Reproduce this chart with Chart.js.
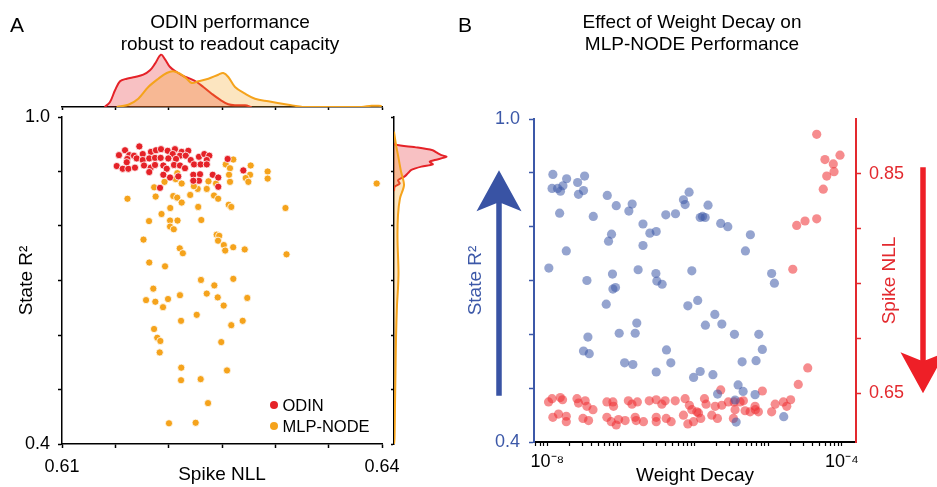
<!DOCTYPE html>
<html>
<head>
<meta charset="utf-8">
<script src="https://cdn.jsdelivr.net/npm/chart.js"></script>
<style>
  body { margin: 0; background: #fff; font-family: "Liberation Sans", Arial, sans-serif; color: #000; }
  #figure { position: relative; width: 937px; height: 487px; overflow: hidden; }
  #figure canvas { position: absolute; left: 0; top: 0; }
  .panel-letter { position: absolute; font-size: 21px; line-height: 21px; }
  .panel-title { position: absolute; width: 300px; font-size: 19px; line-height: 22px; text-align: center; }
  #legendA { position: absolute; left: 270px; top: 394.5px; }
  .legend-row { display: flex; align-items: center; height: 21px; font-size: 16.5px; }
  .legend-row .dot { width: 8px; height: 8px; border-radius: 50%; margin-right: 4.5px; }
</style>
</head>
<body>
<div id="figure">
  <canvas id="topKde" width="937" height="487"></canvas>
  <canvas id="rightKde" width="937" height="487"></canvas>
  <canvas id="mainA" width="937" height="487"></canvas>
  <canvas id="panelB" width="937" height="487"></canvas>

  <div class="panel-letter" style="left:10px; top:14px;">A</div>
  <div class="panel-letter" style="left:458px; top:14px;">B</div>
  <div class="panel-title" style="left:80px; top:10.7px;">ODIN performance<br>robust to readout capacity</div>
  <div class="panel-title" style="left:542px; top:10.7px;">Effect of Weight Decay on<br>MLP-NODE Performance</div>
  <div id="legendA"></div>
</div>

<script>
// ---- Panel A: Spike NLL vs State R2 ----
const odinNll = [0.61591,0.61725,0.61534,0.61631,0.61675,0.61757,0.61834,0.61881,0.61928,0.61991,
  0.62059,0.62122,0.62184,0.62038,0.62106,0.6216,0.62284,0.62334,0.62381,0.61612,
  0.617,0.61757,0.61818,0.61872,0.61925,0.61997,0.62069,0.62207,0.62357,0.61513,
  0.61569,0.61622,0.61684,0.61607,0.61769,0.61832,0.61872,0.6195,0.61982,0.6205,
  0.62106,0.62153,0.62238,0.623,0.62357,0.61818,0.6195,0.62013,0.6209,0.62231,
  0.62294,0.62284,0.62231,0.62413,0.62465,0.62465,0.61919,0.62553,0.627];
const odinR2 = [0.939,0.946,0.930,0.930,0.929,0.932,0.936,0.939,0.941,0.938,
  0.941,0.936,0.938,0.932,0.929,0.929,0.927,0.932,0.929,0.923,
  0.924,0.921,0.924,0.925,0.925,0.924,0.923,0.921,0.921,0.910,
  0.905,0.905,0.907,0.917,0.911,0.907,0.912,0.911,0.905,0.912,
  0.911,0.906,0.913,0.913,0.913,0.899,0.894,0.889,0.891,0.894,
  0.895,0.883,0.883,0.894,0.889,0.872,0.870,0.923,0.902];

const nodeNll = [0.62606,0.62535,0.62575,0.62769,0.62928,0.62928,0.62763,0.62722,0.62747,0.62566,
  0.62575,0.6395,0.62373,0.62444,0.62357,0.62272,0.62236,0.62122,0.62066,0.61961,
  0.61864,0.61878,0.61614,0.62043,0.6208,0.62122,0.62202,0.62425,0.62464,0.62563,
  0.62587,0.62277,0.62015,0.61933,0.63095,0.61816,0.62013,0.62083,0.62306,0.62013,
  0.62048,0.61764,0.6245,0.62474,0.62463,0.62517,0.62605,0.62713,0.6253,0.62104,
  0.62133,0.63105,0.61818,0.61966,0.62303,0.62606,0.62428,0.61856,0.62357,0.62106,
  0.6246,0.62737,0.61788,0.61994,0.61875,0.61947,0.62516,0.62263,0.62116,0.62587,
  0.62694,0.61863,0.61893,0.61922,0.62493,0.61916,0.62118,0.62547,0.623,0.62116,
  0.62369,0.62003,0.62253,0.62081];
const nodeR2 = [0.922,0.913,0.906,0.911,0.900,0.887,0.894,0.888,0.881,0.894,
  0.881,0.878,0.882,0.878,0.868,0.868,0.873,0.878,0.886,0.881,
  0.871,0.854,0.850,0.855,0.852,0.843,0.857,0.856,0.850,0.839,
  0.835,0.835,0.833,0.822,0.833,0.809,0.810,0.810,0.811,0.799,
  0.794,0.775,0.784,0.782,0.773,0.765,0.761,0.757,0.755,0.759,
  0.750,0.748,0.733,0.726,0.701,0.703,0.691,0.685,0.676,0.673,
  0.669,0.668,0.664,0.666,0.661,0.651,0.654,0.637,0.626,0.618,
  0.626,0.611,0.595,0.589,0.587,0.568,0.540,0.535,0.519,0.517,
  0.475,0.438,0.439,0.897];

// marginal densities (arbitrary units)
const odinKdeNll = [0.6140,0.6145,0.61497,0.61544,0.61607,0.61684,0.61762,0.61825,0.61872,0.61928,
  0.61966,0.62013,0.62075,0.62137,0.622,0.62263,0.62325,0.62403,0.62481,0.62559,0.62638,0.62716,0.62778];
const odinKdeTop = [0,5,16.7,25.7,28.3,30,32.3,36.7,43.3,52.3,47.7,40,35,31,28.3,25,20,13.3,7.3,2.7,1.7,1.7,0];
const nodeKdeNll = [0.61513,0.61622,0.61715,0.61809,0.61903,0.61982,0.62043,0.62106,0.62169,0.62216,
  0.62278,0.62372,0.62465,0.62512,0.62559,0.62622,0.62716,0.62809,0.62934,0.63122,
  0.63247,0.63434,0.63809,0.63903,0.63997];
const nodeKdeTop = [0,2.3,8.3,20,28.3,34,35.7,33.3,28.3,24,25.7,28.3,32.3,34,30,20,13.3,8.3,5.7,2.3,0.3,0,0,1.3,1];

const odinKdeR2 = [0.952,0.949,0.944,0.939,0.935,0.930,0.927,0.921,0.918,0.913,0.909,0.903,0.897,0.891,0.884,0.878,0.872,0.864];
const odinKdeSide = [0,1.3,23.7,38.7,42.4,47.4,52.4,40.7,35.7,38.7,27.4,17.4,14,10.7,4,5.7,0.7,0];
const nodeKdeR2 = [0.973,0.949,0.930,0.900,0.875,0.851,0.820,0.777,0.716,0.686,0.655,0.594,0.533,0.472,0.410,0.400];
const nodeKdeSide = [0,2,4,7,10,6,4,3.5,4.5,4,3,2,1.5,1,0.5,0];

// ---- Panel B: weight decay sweep ----
const wdR2 = [1.19e-8,1.16e-8,1.38e-8,1.51e-8,1.63e-8,1.83e-8,2.58e-8,3.21e-8,2.65e-8,3.10e-8,
  1.47e-8,4.21e-8,6.52e-8,8.63e-8,1.42e-7,1.28e-7,7.45e-8,6.78e-8,1.99e-7,2.47e-7,
  3.01e-7,1.99e-7,4.06e-7,5.50e-7,7.05e-7,7.43e-7,8.41e-7,1.19e-6,1.28e-6,1.39e-6,
  1.52e-6,2.26e-6,2.82e-6,5.71e-6,4.89e-6,1.81e-8,1.05e-8,3.45e-8,7.67e-8,1.71e-7,
  2.98e-7,3.07e-7,3.62e-7,9.16e-7,1.11e-5,1.21e-5,7.78e-8,8.43e-8,1.10e-6,6.31e-8,
  8.09e-7,1.88e-6,1.40e-6,2.34e-6,1.64e-7,3.56e-8,9.46e-8,1.56e-7,3.10e-8,3.71e-8,
  4.15e-7,4.75e-7,1.12e-7,1.45e-7,3.01e-7,3.47e-6,7.43e-6,8.30e-6,6.82e-6,4.41e-6,
  1.77e-6,1.19e-6,9.68e-7,3.89e-6,4.55e-6,2.05e-6,6.61e-6,1.62e-5,3.66e-6,3.54e-6];
const stateR2 = [0.897,0.871,0.871,0.866,0.876,0.889,0.882,0.894,0.860,0.867,
  0.825,0.819,0.858,0.839,0.842,0.829,0.786,0.773,0.805,0.788,
  0.791,0.765,0.822,0.824,0.850,0.841,0.864,0.817,0.819,0.817,
  0.840,0.806,0.800,0.785,0.755,0.755,0.723,0.700,0.712,0.720,
  0.713,0.699,0.693,0.718,0.713,0.695,0.684,0.687,0.663,0.656,
  0.653,0.637,0.617,0.619,0.621,0.595,0.602,0.602,0.569,0.564,
  0.571,0.547,0.547,0.544,0.530,0.600,0.600,0.572,0.551,0.549,
  0.525,0.531,0.520,0.506,0.494,0.489,0.488,0.447,0.437,0.478];

const wdNll = [4.54e-5,5.87e-5,7.62e-5,9.40e-5,6.21e-5,7.80e-5,5.57e-5,4.54e-5,3.15e-5,2.43e-5,
  2.15e-5,3.43e-5,2.55e-5,
  1.04e-8,1.16e-8,1.50e-8,1.61e-8,2.53e-8,2.65e-8,3.27e-8,3.45e-8,4.17e-8,6.44e-8,
  7.78e-8,7.93e-8,1.26e-7,1.41e-7,1.67e-7,2.42e-7,3.01e-7,3.59e-7,3.98e-7,5.45e-7,
  7.43e-7,8.49e-7,9.16e-7,1.07e-6,1.36e-6,1.43e-6,1.90e-6,2.34e-6,2.26e-6,2.87e-6,
  3.44e-6,4.14e-6,4.59e-6,3.54e-6,4.84e-6,5.66e-6,6.61e-6,6.67e-6,7.33e-6,8.30e-6,
  1.11e-5,1.24e-5,1.60e-5,1.78e-5,2.01e-5,
  1.19e-8,1.42e-8,1.81e-8,1.81e-8,3.05e-8,3.63e-8,6.44e-8,7.38e-8,8.63e-8,9.27e-8,
  1.14e-7,1.56e-7,1.61e-7,2.02e-7,3.01e-7,3.01e-7,4.11e-7,4.80e-7,7.05e-7,8.09e-7,
  9.64e-7,1.13e-6,1.21e-6,1.71e-6,2.04e-6,3.36e-6];
const spikeNll = [0.886,0.863,0.859,0.867,0.848,0.852,0.836,0.809,0.807,0.803,
  0.763,0.673,0.658,
  0.642,0.645,0.646,0.644,0.645,0.641,0.643,0.638,0.635,0.642,
  0.642,0.638,0.643,0.640,0.642,0.643,0.644,0.640,0.643,0.643,
  0.645,0.639,0.635,0.633,0.645,0.640,0.638,0.639,0.653,0.642,
  0.642,0.642,0.643,0.635,0.634,0.633,0.638,0.635,0.633,0.652,
  0.633,0.640,0.642,0.638,0.644,
  0.628,0.631,0.629,0.624,0.627,0.625,0.628,0.624,0.621,0.626,
  0.625,0.628,0.625,0.624,0.628,0.624,0.627,0.624,0.630,0.622,
  0.624,0.632,0.627,0.630,0.627,0.627];

// tick labels
const nllLabelsA = [0.61, 0.64];
const r2Labels = [0.4, 1.0];
const nllTicksB = [0.65, 0.70, 0.75, 0.80, 0.85];
const nllLabelsB = [0.65, 0.85];
const decayLabels = [1e-8, 1e-4];

const RED = '#e52228';
const ORANGE = '#f5a31c';
const BLUE_AXIS = '#3c58a8';
const RED_AXIS = '#e3292e';

Chart.defaults.font.family = '"Liberation Sans", Arial, sans-serif';
Chart.defaults.color = '#000';
Chart.defaults.animation = false;
Chart.defaults.responsive = false;
Chart.defaults.plugins.legend.display = false;
Chart.defaults.plugins.tooltip.enabled = false;

const hasLabel = (list, v) => list.some(t => Math.abs(t - v) < 1e-6);
const fixWidth = w => scale => { scale.width = w; };
const fixHeight = h => scale => { scale.height = h; };
const toPoints = (xs, ys) => xs.map((x, i) => ({ x: x, y: ys[i] }));
const supDigits = { '-': '\u207B', '0': '\u2070', '1': '\u00B9', '2': '\u00B2', '3': '\u00B3', '4': '\u2074',
  '5': '\u2075', '6': '\u2076', '7': '\u2077', '8': '\u2078', '9': '\u2079' };

function drawArrow(ctx, x, yFrom, yTip, color) {
  const dir = yTip < yFrom ? -1 : 1;
  const headLen = 41, halfW = 22.5, notch = 8, shaft = 5.5;
  const baseY = yTip - dir * headLen;
  ctx.save();
  ctx.fillStyle = color;
  ctx.beginPath();
  ctx.moveTo(x - shaft / 2, yFrom);
  ctx.lineTo(x - shaft / 2, baseY + dir * notch);
  ctx.lineTo(x - halfW, baseY);
  ctx.lineTo(x, yTip);
  ctx.lineTo(x + halfW, baseY);
  ctx.lineTo(x + shaft / 2, baseY + dir * notch);
  ctx.lineTo(x + shaft / 2, yFrom);
  ctx.closePath();
  ctx.fill();
  ctx.restore();
}

const panelBDecor = {
  id: 'panelBDecor',
  afterDraw(chart) {
    const { ctx, chartArea, scales } = chart;
    drawArrow(ctx, chartArea.left - 35, scales.y.getPixelForValue(0.486), scales.y.getPixelForValue(0.905), '#3953a4');
    drawArrow(ctx, chartArea.right + 67, scales.y1.getPixelForValue(0.856), scales.y1.getPixelForValue(0.65), '#ee1f27');

    ctx.save();
    ctx.translate(chartArea.right + 34, (chartArea.top + chartArea.bottom) / 2);
    ctx.rotate(-Math.PI / 2);
    ctx.font = '19px "Liberation Sans", Arial, sans-serif';
    ctx.fillStyle = RED_AXIS;
    ctx.textAlign = 'center';
    ctx.textBaseline = 'middle';
    ctx.fillText('Spike NLL', 0, 0);
    ctx.restore();
  }
};

document.addEventListener('DOMContentLoaded', function() {
  // top marginal density
  new Chart(document.getElementById('topKde'), {
    type: 'line',
    data: {
      datasets: [{
        data: toPoints(nodeKdeNll, nodeKdeTop),
        borderColor: ORANGE, backgroundColor: 'rgba(245,163,28,0.28)',
        fill: 'origin', borderWidth: 2, pointRadius: 0, tension: 0.35
      }, {
        data: toPoints(odinKdeNll, odinKdeTop),
        borderColor: RED, backgroundColor: 'rgba(229,34,40,0.28)',
        fill: 'origin', borderWidth: 2, pointRadius: 0, tension: 0.35
      }]
    },
    options: {
      layout: { padding: { left: 62, right: 555, top: 52, bottom: 370 } },
      scales: {
        x: {
          type: 'linear', min: 0.61, max: 0.64,
          ticks: { stepSize: 0.005, autoSkip: false, callback: () => '' },
          grid: { drawOnChartArea: false, tickLength: 3, tickColor: '#000', tickWidth: 1.5 },
          border: { color: '#000', width: 1.5 },
          afterFit: fixHeight(10)
        },
        y: { display: false, min: 0, max: 55 }
      }
    }
  });

  // right marginal density
  new Chart(document.getElementById('rightKde'), {
    type: 'line',
    data: {
      datasets: [{
        data: toPoints(nodeKdeSide, nodeKdeR2),
        borderColor: ORANGE, backgroundColor: 'rgba(245,163,28,0.28)',
        fill: 'shape', borderWidth: 2, pointRadius: 0, tension: 0.3
      }, {
        data: toPoints(odinKdeSide, odinKdeR2),
        borderColor: RED, backgroundColor: 'rgba(229,34,40,0.28)',
        fill: 'shape', borderWidth: 2, pointRadius: 0, tension: 0.3
      }]
    },
    options: {
      layout: { padding: { left: 384, right: 488, top: 117, bottom: 43 } },
      scales: {
        x: { type: 'linear', display: false, min: 0, max: 55 },
        y: {
          type: 'linear', position: 'left', min: 0.4, max: 1.0,
          ticks: { stepSize: 0.1, callback: () => '' },
          grid: { drawOnChartArea: false, tickLength: 3, tickColor: '#000', tickWidth: 1.5 },
          border: { color: '#000', width: 1.5 },
          afterFit: fixWidth(10)
        }
      }
    }
  });

  // main scatter of panel A
  const mainA = new Chart(document.getElementById('mainA'), {
    type: 'scatter',
    data: {
      datasets: [{
        label: 'ODIN',
        data: toPoints(odinNll, odinR2),
        pointBackgroundColor: RED, pointBorderColor: '#fff', pointBorderWidth: 0.8, pointRadius: 3.6,
        order: 0
      }, {
        label: 'MLP-NODE',
        data: toPoints(nodeNll, nodeR2),
        pointBackgroundColor: ORANGE, pointBorderColor: '#fff', pointBorderWidth: 0.8, pointRadius: 3.6,
        order: 1
      }]
    },
    options: {
      layout: { padding: { left: 0, right: 555, top: 117, bottom: 0 } },
      scales: {
        x: {
          type: 'linear', min: 0.61, max: 0.64,
          ticks: {
            stepSize: 0.005, autoSkip: false, maxRotation: 0, padding: 8, font: { size: 18 },
            callback: v => hasLabel(nllLabelsA, v) ? v.toFixed(2) : ''
          },
          grid: { drawOnChartArea: false, tickLength: 4, tickColor: '#000', tickWidth: 1.5 },
          border: { color: '#000', width: 1.5 },
          title: { display: true, text: 'Spike NLL', font: { size: 19 }, padding: { top: 0, bottom: 1 } },
          afterFit: fixHeight(43)
        },
        y: {
          type: 'linear', min: 0.4, max: 1.0,
          ticks: {
            stepSize: 0.1, padding: 8, font: { size: 18 },
            callback: v => hasLabel(r2Labels, v) ? v.toFixed(1) : ''
          },
          grid: { drawOnChartArea: false, tickLength: 4, tickColor: '#000', tickWidth: 1.5 },
          border: { color: '#000', width: 1.5 },
          title: { display: true, text: 'State R\u00B2', font: { size: 19 }, padding: { top: 15.5, bottom: 0 } },
          afterFit: fixWidth(62)
        }
      }
    }
  });

  // html legend for panel A, built from the datasets
  const legendBox = document.getElementById('legendA');
  mainA.data.datasets.forEach(function(ds) {
    const row = document.createElement('div');
    row.className = 'legend-row';
    const dot = document.createElement('span');
    dot.className = 'dot';
    dot.style.background = ds.pointBackgroundColor;
    row.appendChild(dot);
    row.appendChild(document.createTextNode(ds.label));
    legendBox.appendChild(row);
  });

  // panel B
  new Chart(document.getElementById('panelB'), {
    type: 'scatter',
    data: {
      datasets: [{
        label: 'State R\u00B2',
        data: toPoints(wdR2, stateR2),
        yAxisID: 'y',
        pointBackgroundColor: 'rgba(62,90,168,0.55)', pointBorderWidth: 0, pointRadius: 4.6
      }, {
        label: 'Spike NLL',
        data: toPoints(wdNll, spikeNll),
        yAxisID: 'y1',
        pointBackgroundColor: 'rgba(239,46,50,0.55)', pointBorderWidth: 0, pointRadius: 4.6
      }]
    },
    options: {
      layout: { padding: { left: 464, right: 21, top: 119, bottom: 0 } },
      scales: {
        x: {
          type: 'logarithmic', min: 6.6e-9, max: 1.55e-4,
          afterBuildTicks: scale => {
            scale.ticks = scale.ticks.filter(t => {
              const m = t.value / Math.pow(10, Math.floor(Math.log10(t.value) + 1e-9));
              return Math.abs(m - Math.round(m)) < 1e-3;
            });
          },
          ticks: {
            autoSkip: false, maxRotation: 0, padding: 5, font: { size: 18 },
            callback: v => {
              const hit = decayLabels.find(t => Math.abs(Math.log10(v) - Math.log10(t)) < 1e-6);
              if (!hit) return '';
              const exp = String(Math.round(Math.log10(hit)));
              return '10' + exp.split('').map(c => supDigits[c]).join('');
            }
          },
          grid: { drawOnChartArea: false, tickLength: 4, tickColor: '#000', tickWidth: 1.2 },
          border: { color: '#000', width: 2 },
          title: { display: true, text: 'Weight Decay', font: { size: 19 }, padding: { top: 0, bottom: 0 } },
          afterFit: fixHeight(45)
        },
        y: {
          type: 'linear', position: 'left', min: 0.4, max: 1.0,
          ticks: {
            stepSize: 0.1, padding: 9, color: BLUE_AXIS, font: { size: 18 },
            callback: v => hasLabel(r2Labels, v) ? v.toFixed(1) : ''
          },
          grid: { drawOnChartArea: false, tickLength: 5, tickColor: BLUE_AXIS, tickWidth: 1.5 },
          border: { color: BLUE_AXIS, width: 2 },
          title: { display: true, text: 'State R\u00B2', color: BLUE_AXIS, font: { size: 19 }, padding: { top: 0, bottom: 0 } },
          afterFit: fixWidth(70)
        },
        y1: {
          type: 'linear', position: 'right', min: 0.6055, max: 0.90,
          afterBuildTicks: scale => { scale.ticks = nllTicksB.map(v => ({ value: v })); },
          ticks: {
            padding: 8, color: RED_AXIS, font: { size: 18 },
            callback: v => hasLabel(nllLabelsB, v) ? v.toFixed(2) : ''
          },
          grid: { drawOnChartArea: false, tickLength: 5, tickColor: RED_AXIS, tickWidth: 1.5 },
          border: { color: RED_AXIS, width: 2 },
          afterFit: fixWidth(60)
        }
      }
    },
    plugins: [panelBDecor]
  });
});
</script>
</body>
</html>
